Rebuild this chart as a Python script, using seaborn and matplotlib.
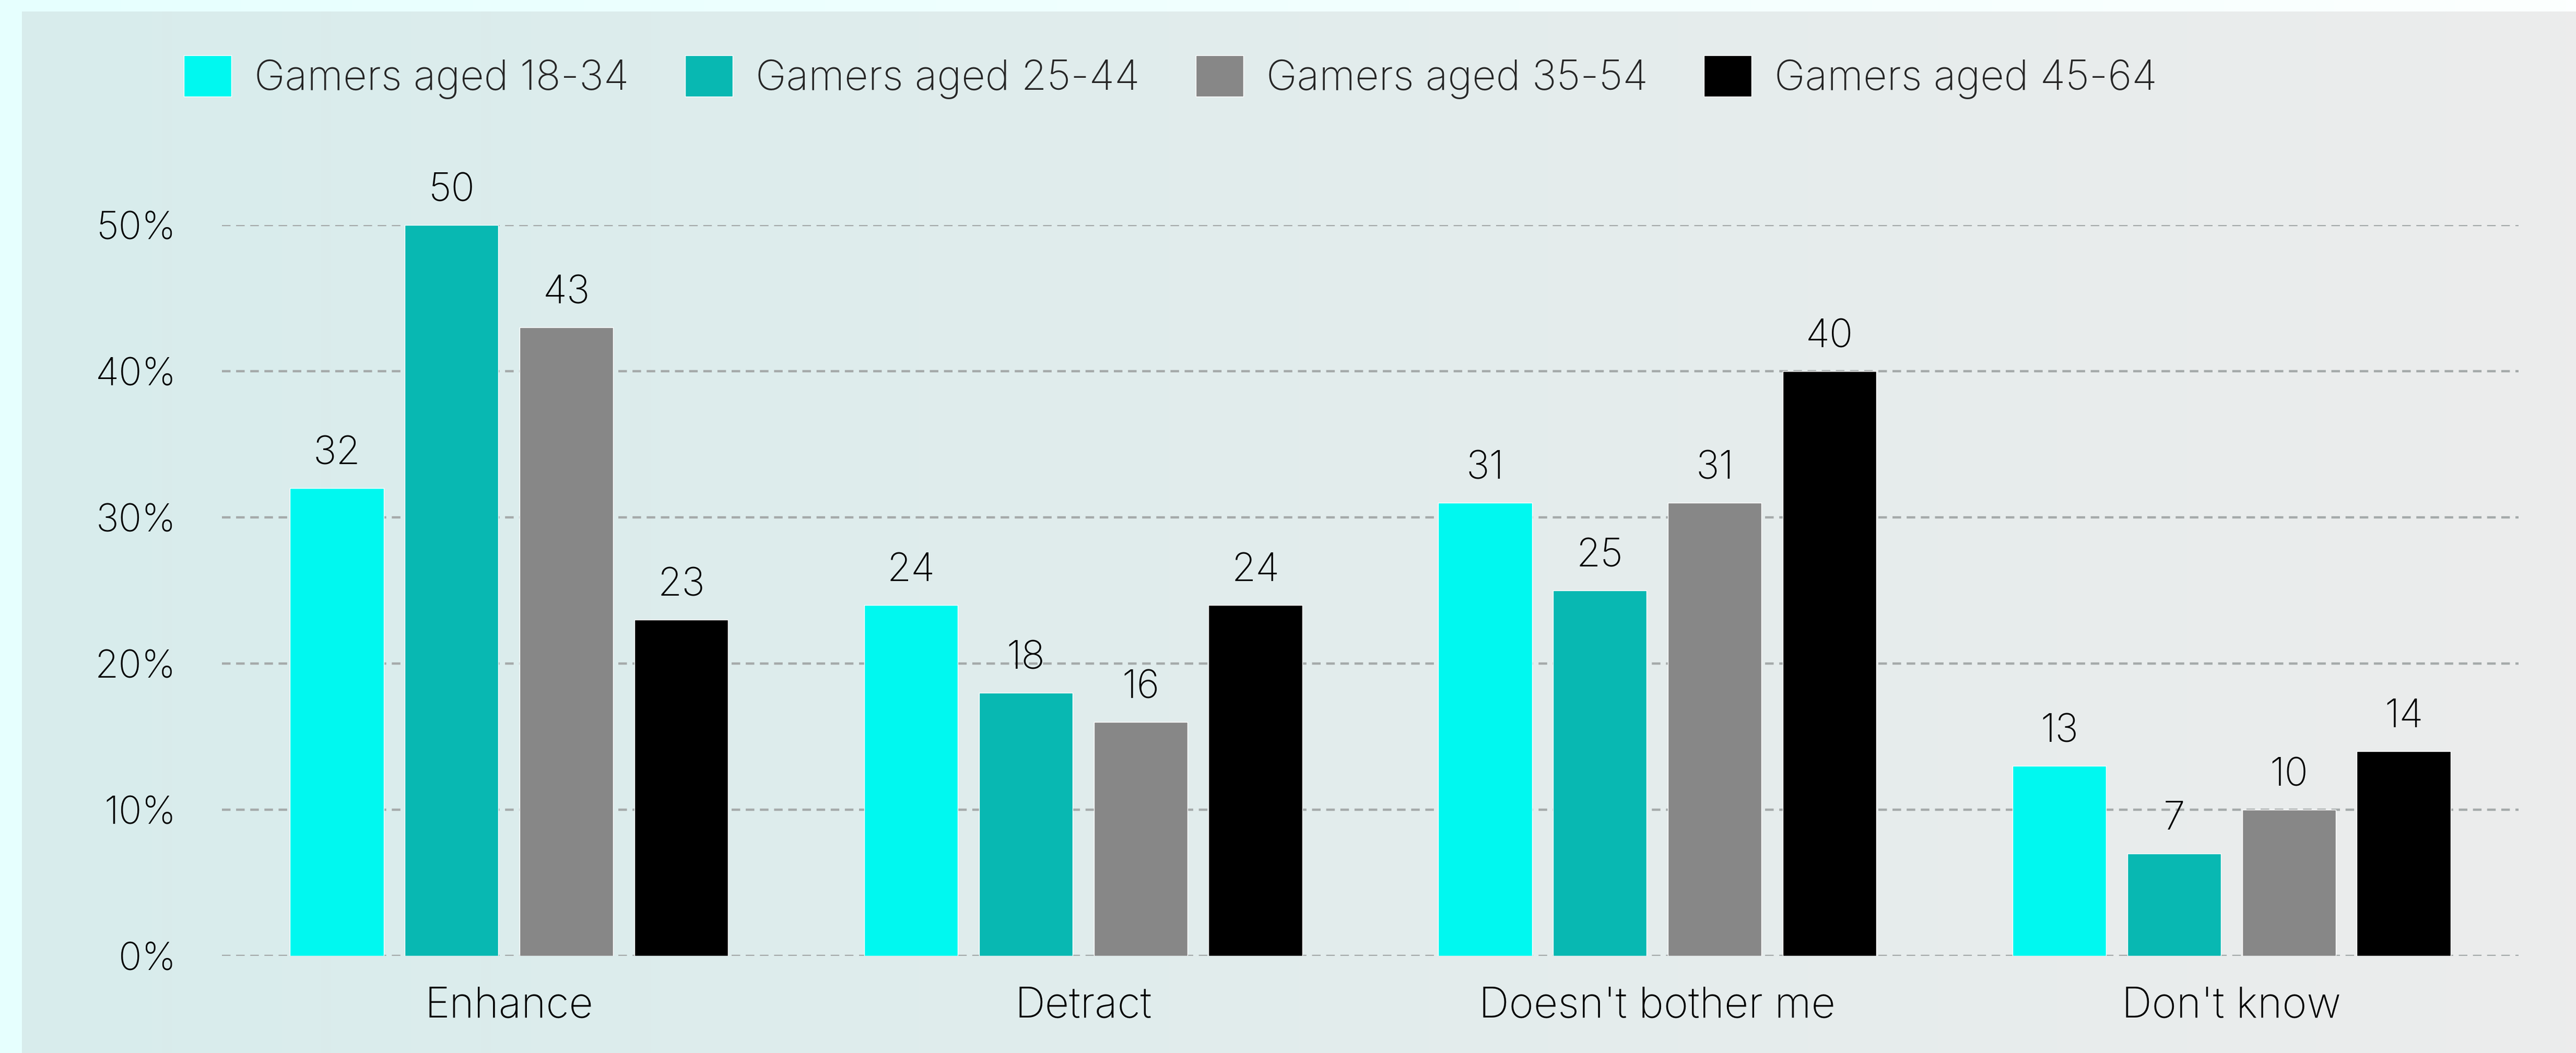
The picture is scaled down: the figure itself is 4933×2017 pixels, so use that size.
import numpy as np
import pandas as pd
import matplotlib
matplotlib.use("Agg")
import matplotlib.pyplot as plt
import seaborn as sns
from matplotlib.ticker import FuncFormatter

# ---------------- data ----------------
categories = ["Enhance", "Detract", "Doesn't bother me", "Don't know"]
groups = ["Gamers aged 18-34", "Gamers aged 25-44", "Gamers aged 35-54", "Gamers aged 45-64"]
v_18_34 = [32, 24, 31, 13]
v_25_44 = [50, 18, 25, 7]
v_35_54 = [43, 16, 31, 10]
v_45_64 = [23, 24, 40, 14]
colors = ["#00F8F0", "#08B8B2", "#878787", "#000000"]
yticks = [0, 10, 20, 30, 40, 50]

series = [v_18_34, v_25_44, v_35_54, v_45_64]
rows = []
for g, vals in zip(groups, series):
    for c, v in zip(categories, vals):
        rows.append({"category": c, "group": g, "value": v})
df = pd.DataFrame(rows)

# ---------------- figure ----------------
W, H = 4933, 2017
dpi = 100
sns.set_theme(style="white")
plt.rcParams['font.family'] = ['Inter', 'DejaVu Sans']
plt.rcParams['font.weight'] = 'light'
FS_Y = 53
FS_X = 58
FS_LEG = 57
FS_BAR = 54

fig = plt.figure(figsize=(W / dpi, H / dpi), dpi=dpi)

# outer background (light cyan -> white)
bg = fig.add_axes([0, 0, 1, 1], zorder=-10)
t = np.linspace(0, 1, 256)
o0 = np.array([230, 255, 254]) / 255
o1 = np.array([252, 255, 255]) / 255
img_o = o0[None, None, :] * (1 - t)[None, :, None] + o1[None, None, :] * t[None, :, None]
bg.imshow(img_o, aspect='auto', extent=[0, 1, 0, 1])
bg.axis('off')

# inner panel gradient
inner = fig.add_axes([42 / W, 0, 1 - 42 / W, 1 - 22 / H], zorder=-9)
c0 = np.array([216, 236, 236]) / 255
c1 = np.array([236, 236, 236]) / 255
img = c0[None, None, :] * (1 - t)[None, :, None] + c1[None, None, :] * t[None, :, None]
inner.imshow(img, aspect='auto', extent=[0, 1, 0, 1])
inner.axis('off')

# main axes
ax = fig.add_axes([425 / W, 186 / H, (4823 - 425) / W, 1400 / H])
ax.patch.set_alpha(0)

sns.barplot(data=df, x="category", y="value", hue="group", hue_order=groups,
            order=categories, palette=colors, width=0.8, gap=0.185,
            saturation=1, ax=ax, errorbar=None)

handles, labels = ax.get_legend_handles_labels()
if ax.get_legend() is not None:
    ax.get_legend().remove()

for cont in ax.containers:
    ax.bar_label(cont, fmt="%d", padding=22, fontsize=FS_BAR, color="black")

ax.set_ylim(0, 50)
ax.set_xlim(-0.5, 3.5)
ax.set_yticks(yticks)
ax.yaxis.set_major_formatter(FuncFormatter(lambda v, p: f"{int(v)}%"))
ax.set_xlabel("")
ax.set_ylabel("")
for s in ax.spines.values():
    s.set_visible(False)
ax.yaxis.grid(True, linestyle=(0, (3.7, 2.4)), color="#a5aaaa", linewidth=3.2)
ax.xaxis.grid(False)
ax.set_axisbelow(True)
ax.tick_params(axis='y', length=0, pad=63, labelsize=FS_Y, labelcolor="black")
ax.tick_params(axis='x', length=0, pad=42, labelsize=FS_X, labelcolor="black")

fig.legend(handles, labels, loc="center left", bbox_to_anchor=(352 / W, 1 - 148 / H),
           ncol=4, frameon=False, fontsize=FS_LEG, handlelength=1.15, handleheight=1.15,
           handletextpad=0.56, columnspacing=1.35, borderpad=0, borderaxespad=0)

fig.savefig("out.png", dpi=dpi)
